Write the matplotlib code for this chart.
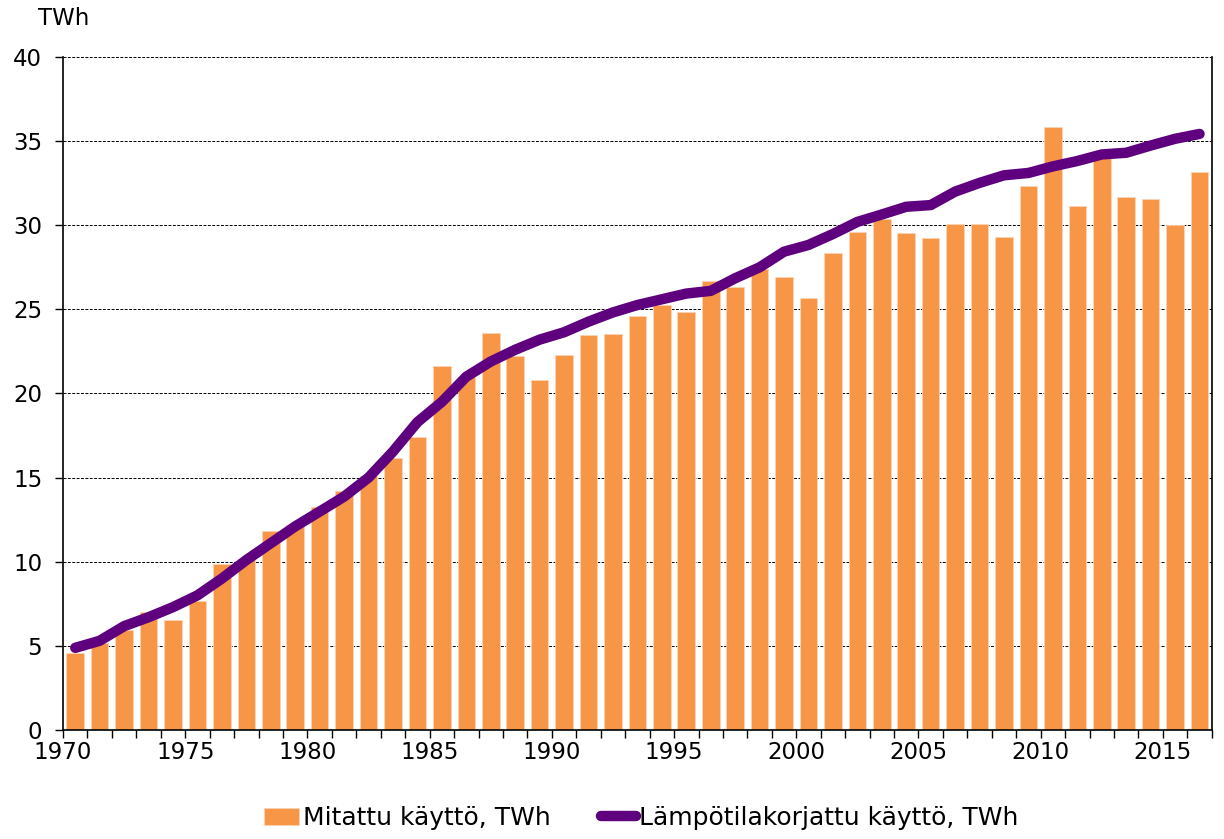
import matplotlib
matplotlib.use("Agg")
import matplotlib.pyplot as plt
import numpy as np

years = list(range(1970, 2017))
measured = [4.57, 5.18, 5.97, 7.0, 6.54, 7.69, 9.84, 10.15, 11.8, 12.18,
            13.27, 14.23, 15.12, 16.19, 17.44, 21.65, 21.0, 23.62, 22.22, 20.83,
            22.28, 23.5, 23.56, 24.63, 25.26, 24.82, 26.66, 26.36, 27.4, 26.93,
            25.67, 28.37, 29.6, 30.4, 29.52, 29.26, 30.08, 30.08, 29.33, 32.36,
            35.85, 31.16, 34.05, 31.67, 31.56, 30.02, 33.19]
corrected = [4.88, 5.3, 6.17, 6.7, 7.3, 8.0, 9.0, 10.1, 11.1, 12.1,
             12.98, 13.87, 15.0, 16.55, 18.3, 19.5, 21.0, 21.9, 22.6, 23.2,
             23.64, 24.27, 24.82, 25.26, 25.6, 25.94, 26.1, 26.85, 27.5, 28.43,
             28.83, 29.48, 30.2, 30.64, 31.1, 31.2, 32.0, 32.52, 32.97, 33.11,
             33.5, 33.82, 34.21, 34.31, 34.74, 35.14, 35.43]
label_years = [1970, 1975, 1980, 1985, 1990, 1995, 2000, 2005, 2010, 2015]

BAR_COLOR = "#F79646"
LINE_COLOR = "#5F007F"

plt.rcParams["font.family"] = ["DejaVu Sans"]

fig = plt.figure(figsize=(12.24, 8.39), dpi=100)
ax = fig.add_axes([0.0515, 0.13, 0.9385, 0.802])

x = np.arange(len(years))
bars = ax.bar(x, measured, width=0.72, color=BAR_COLOR, edgecolor="#FBD3B5",
              linewidth=0.6, zorder=2)
line, = ax.plot(x, corrected, color=LINE_COLOR, linewidth=7.5, solid_capstyle="round",
                solid_joinstyle="round", zorder=3)

ax.set_xlim(-0.5, len(years) - 0.5)
ax.set_ylim(0, 40)
ax.set_yticks(range(0, 41, 5))
ax.yaxis.grid(True, linestyle=(0, (3, 1.5)), color="black", linewidth=0.7)
ax.set_axisbelow(True)

# labels sit on the boundary before each labelled year
ax.set_xticks([years.index(y) - 0.5 for y in label_years])
ax.set_xticklabels([str(y) for y in label_years])
ax.set_xticks(np.arange(-0.5, len(years), 1), minor=True)
ax.tick_params(axis="x", which="major", length=6, width=1, direction="out",
               labelsize=16.5, pad=2)
ax.tick_params(axis="x", which="minor", length=6, width=1, direction="out")
ax.tick_params(axis="y", length=6, width=1, direction="out", labelsize=16.5, pad=9)

ax.spines["top"].set_visible(False)
for s in ["left", "bottom", "right"]:
    ax.spines[s].set_linewidth(1.2)
    ax.spines[s].set_color("black")

fig.text(0.031, 0.978, "TWh", fontsize=16.5, va="center", ha="left")

fig.legend([bars, line], ["Mitattu käyttö, TWh", "Lämpötilakorjattu käyttö, TWh"],
           loc="center", bbox_to_anchor=(0.524, 0.025), ncol=2, frameon=False,
           fontsize=18, handlelength=1.4, handletextpad=0.15, columnspacing=2.0)

fig.savefig("out.png", dpi=100, facecolor="white")
